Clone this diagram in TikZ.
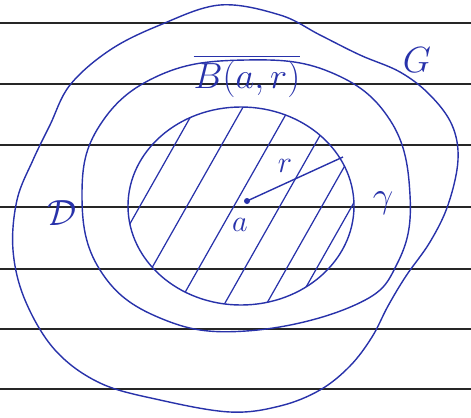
\documentclass[tikz,border=0pt]{standalone}
\usepackage{amsmath}
\definecolor{inkblue}{RGB}{40,50,170}
\begin{document}
\begin{tikzpicture}[
            x=0.02cm, y=-0.02cm,
            rule/.style={draw=black!85,line width=0.7pt},
            ink/.style={draw=inkblue,line width=0.8pt},
            hatch/.style={draw=inkblue,line width=0.7pt},
            lbl/.style={text=inkblue,inner sep=0pt,font=\LARGE},
            big/.style={text=inkblue,inner sep=0pt,font=\huge}
        ]

        \useasboundingbox[fill=white] (0,0) rectangle (471,417);

        % ruled paper
        \foreach \y in {23,84,145,207,269,329,389}
            \draw[rule] (0,\y) -- (471,\y);

        % outer region G
        \draw[ink] plot[smooth cycle,tension=0.6] coordinates {
            (220,5) (280,15) (320,35) (360,55) (400,72) (430,95) (452,125)
            (458,160) (448,205) (430,242) (406,276) (388,306) (372,337)
            (350,366) (320,390) (280,406) (230,412) (160,400) (100,383)
            (55,350) (25,300) (13,250) (17,200) (33,160) (50,125) (70,85)
            (110,50) (160,25)};

        % region D
        \draw[ink] plot[smooth cycle,tension=0.7] coordinates {
            (246,60) (330,72) (390,120) (410,195) (398,262) (355,305)
            (246,331) (160,318) (100,270) (82,195) (100,125) (160,75)};

        % closed disc, boundary gamma
        \draw[ink] (241,206) ellipse [x radius=113, y radius=99];
        \begin{scope}
            \clip (241,206) ellipse [x radius=113, y radius=99];
            \foreach \x in {140,187,234,280,322,352}
                \draw[hatch] (\x+68,86) -- (\x-68,326);
        \end{scope}

        \coordinate (a) at (247,201);
        \coordinate (rim) at (343,157);
        \draw[ink] (a) -- (rim);
        \fill[inkblue] (a) circle (3);

        \node[big] (G) at (417,60) {$G$};
        \node[big] (B) at (247,76) {$\overline{B(a,r)}$};
        \node[big] (D) at (62,213) {$\mathcal{D}$};
        \node[big] (gam) at (383,203) {$\gamma$};
        \node[lbl] (alab) at (240,225) {$a$};
        \node[lbl] (rlab) at (285,166) {$r$};

\end{tikzpicture}
\end{document}
